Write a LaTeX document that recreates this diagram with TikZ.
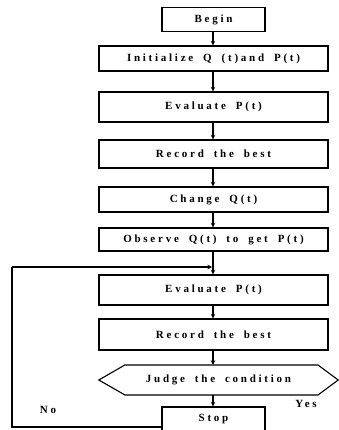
\documentclass[tikz,border=0pt]{standalone}
\usepackage{fontspec}
\setmainfont{Liberation Serif}[LetterSpace=25,WordSpace=1.8]
\usetikzlibrary{arrows.meta,calc}
\begin{document}
\begin{tikzpicture}[x=1pt,y=-1pt,
  every node/.style={font=\fontsize{11}{13}\selectfont\bfseries},
  box/.style={draw,line width=1.1pt,minimum width=229pt,inner sep=0pt},
  smallbox/.style={draw,line width=1.1pt,minimum width=103pt,inner sep=0pt},
  conn/.style={line width=1.1pt,-{Stealth[length=4.5pt,width=4.5pt]}},
  plain/.style={line width=1.1pt}]
\useasboundingbox (0,0) rectangle (338,430);
\coordinate (col) at (213,0);
\node[smallbox,minimum height=24pt] (begin) at (213.5,19.5) {Begin};
\node[box,minimum height=25pt] (init) at (213.5,58.5) {Initialize Q (t)and P(t)};
\node[box,minimum height=30pt] (eval1) at (213.5,107) {Evaluate P(t)};
\node[box,minimum height=28pt] (rec1) at (213.5,154) {Record the best};
\node[box,minimum height=25pt] (change) at (213.5,199.5) {Change Q(t)};
\node[box,minimum height=23pt] (obs) at (213.5,239.5) {Observe Q(t) to get P(t)};
\node[box,minimum height=30pt] (eval2) at (213.5,290) {Evaluate P(t)};
\node[box,minimum height=31pt] (rec2) at (213.5,334.5) {Record the best};
\node[inner sep=0pt,minimum height=30pt,minimum width=239pt] (judge) at (218.5,380) {Judge the condition};
\draw[plain] (judge.west) -- ++(26,-15) coordinate (jtl) -- (318,365) coordinate (jtr)
  -- (judge.east) -- (318,395) -- (125,395) -- cycle;
\node[smallbox,minimum height=25pt] (stop) at (213.5,419.5) {Stop};
\node (no) at (48,410) {No};
\node (yes) at (306,404) {Yes};
\coordinate (loopin) at (213,267);
\coordinate (loopbl) at (12,427);
\coordinate (looptl) at (12,267);
\draw[conn] (begin.south -| col) -- (init.north -| col);
\draw[conn] (init.south -| col) -- (eval1.north -| col);
\draw[conn] (eval1.south -| col) -- (rec1.north -| col);
\draw[conn] (rec1.south -| col) -- (change.north -| col);
\draw[conn] (change.south -| col) -- (obs.north -| col);
\draw[conn] (obs.south -| col) -- (eval2.north -| col);
\draw[conn] (eval2.south -| col) -- (rec2.north -| col);
\draw[conn] (rec2.south -| col) -- (judge.north -| col);
\draw[conn] (judge.south -| col) -- (stop.north -| col);
\draw[plain] (stop.west |- loopbl) -- (loopbl) -- (looptl);
\draw[conn] (looptl) -- ([xshift=-1pt]loopin);
\end{tikzpicture}
\end{document}
